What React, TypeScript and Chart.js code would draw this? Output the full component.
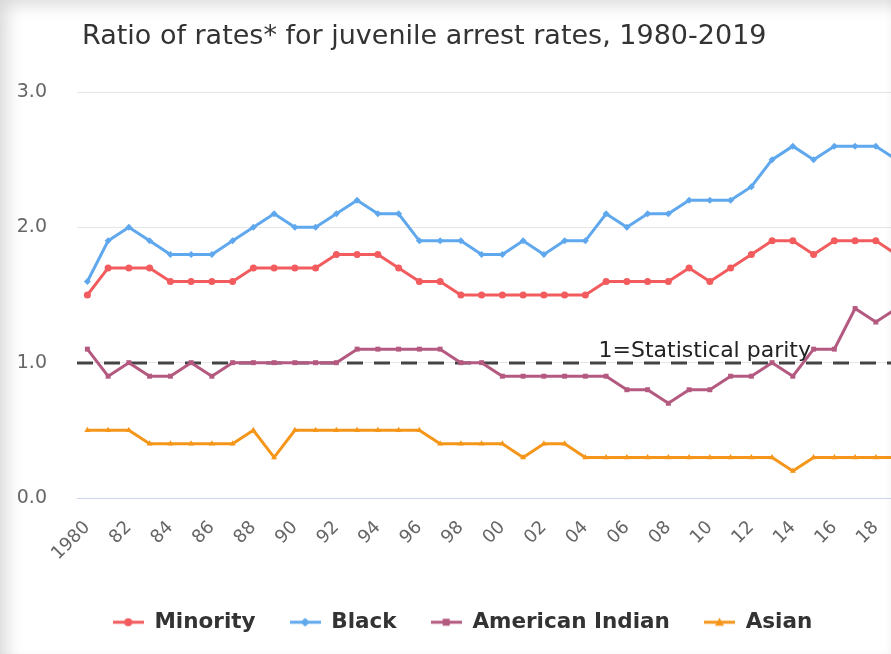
import React, { useEffect, useRef } from "react";
import { Chart, registerables } from "chart.js";

Chart.register(...registerables);

const chartTitle = "Ratio of rates* for juvenile arrest rates, 1980-2019";

const years = [
  "1980", "1981", "1982", "1983", "1984", "1985", "1986", "1987", "1988", "1989",
  "1990", "1991", "1992", "1993", "1994", "1995", "1996", "1997", "1998", "1999",
  "2000", "2001", "2002", "2003", "2004", "2005", "2006", "2007", "2008", "2009",
  "2010", "2011", "2012", "2013", "2014", "2015", "2016", "2017", "2018", "2019",
];

const xTickLabels = [
  "1980", "", "82", "", "84", "", "86", "", "88", "",
  "90", "", "92", "", "94", "", "96", "", "98", "",
  "00", "", "02", "", "04", "", "06", "", "08", "",
  "10", "", "12", "", "14", "", "16", "", "18", "",
];

const minority = [
  1.5, 1.7, 1.7, 1.7, 1.6, 1.6, 1.6, 1.6, 1.7, 1.7,
  1.7, 1.7, 1.8, 1.8, 1.8, 1.7, 1.6, 1.6, 1.5, 1.5,
  1.5, 1.5, 1.5, 1.5, 1.5, 1.6, 1.6, 1.6, 1.6, 1.7,
  1.6, 1.7, 1.8, 1.9, 1.9, 1.8, 1.9, 1.9, 1.9, 1.8,
];

const black = [
  1.6, 1.9, 2.0, 1.9, 1.8, 1.8, 1.8, 1.9, 2.0, 2.1,
  2.0, 2.0, 2.1, 2.2, 2.1, 2.1, 1.9, 1.9, 1.9, 1.8,
  1.8, 1.9, 1.8, 1.9, 1.9, 2.1, 2.0, 2.1, 2.1, 2.2,
  2.2, 2.2, 2.3, 2.5, 2.6, 2.5, 2.6, 2.6, 2.6, 2.5,
];

const americanIndian = [
  1.1, 0.9, 1.0, 0.9, 0.9, 1.0, 0.9, 1.0, 1.0, 1.0,
  1.0, 1.0, 1.0, 1.1, 1.1, 1.1, 1.1, 1.1, 1.0, 1.0,
  0.9, 0.9, 0.9, 0.9, 0.9, 0.9, 0.8, 0.8, 0.7, 0.8,
  0.8, 0.9, 0.9, 1.0, 0.9, 1.1, 1.1, 1.4, 1.3, 1.4,
];

const asian = [
  0.5, 0.5, 0.5, 0.4, 0.4, 0.4, 0.4, 0.4, 0.5, 0.3,
  0.5, 0.5, 0.5, 0.5, 0.5, 0.5, 0.5, 0.4, 0.4, 0.4,
  0.4, 0.3, 0.4, 0.4, 0.3, 0.3, 0.3, 0.3, 0.3, 0.3,
  0.3, 0.3, 0.3, 0.3, 0.2, 0.3, 0.3, 0.3, 0.3, 0.3,
];

const seriesNames = ["Minority", "Black", "American Indian", "Asian"];
const seriesColors = ["#f25c5e", "#5fa8ee", "#b4597f", "#f5961a"];
const seriesMarkers = ["circle", "rectRot", "rect", "triangle"];

const yMin = 0;
const yMax = 3;
const yStep = 1;

const parityValue = 1;
const parityLabel = "1=Statistical parity";

const FONT = "'DejaVu Sans', sans-serif";

function makeLegendIcon(color: string, marker: string): HTMLCanvasElement {
  const c = document.createElement("canvas");
  c.width = 31;
  c.height = 12;
  const g = c.getContext("2d")!;
  g.strokeStyle = color;
  g.fillStyle = color;
  g.lineWidth = 3;
  g.beginPath();
  g.moveTo(0, 6);
  g.lineTo(31, 6);
  g.stroke();
  const cx = 15.5, cy = 6;
  g.beginPath();
  if (marker === "circle") {
    g.arc(cx, cy, 4, 0, Math.PI * 2);
  } else if (marker === "rectRot") {
    g.moveTo(cx, cy - 4.5);
    g.lineTo(cx + 4.5, cy);
    g.lineTo(cx, cy + 4.5);
    g.lineTo(cx - 4.5, cy);
    g.closePath();
  } else if (marker === "rect") {
    g.rect(cx - 3.5, cy - 3.5, 7, 7);
  } else {
    g.moveTo(cx, cy - 4.5);
    g.lineTo(cx + 4.5, cy + 3.5);
    g.lineTo(cx - 4.5, cy + 3.5);
    g.closePath();
  }
  g.fill();
  return c;
}

const titlePlugin = {
  id: "customTitle",
  afterDraw(chart: any) {
    const ctx = chart.ctx;
    ctx.save();
    ctx.font = `27px ${FONT}`;
    ctx.fillStyle = "#333333";
    ctx.textAlign = "left";
    ctx.textBaseline = "alphabetic";
    ctx.fillText(chartTitle, 82, 44);
    ctx.restore();
  },
};

const parityPlugin = {
  id: "parityLine",
  beforeDatasetsDraw(chart: any) {
    const { ctx, chartArea, scales } = chart;
    const y = Math.round(scales.y.getPixelForValue(parityValue));
    ctx.save();
    ctx.strokeStyle = "#444444";
    ctx.lineWidth = 3;
    ctx.setLineDash([16, 11]);
    ctx.beginPath();
    ctx.moveTo(chartArea.left, y);
    ctx.lineTo(chartArea.right, y);
    ctx.stroke();
    ctx.restore();
  },
  afterDatasetsDraw(chart: any) {
    const { ctx, chartArea, scales } = chart;
    const y = scales.y.getPixelForValue(parityValue);
    ctx.save();
    ctx.font = `22px ${FONT}`;
    ctx.fillStyle = "#222222";
    ctx.textAlign = "right";
    ctx.textBaseline = "alphabetic";
    ctx.fillText(parityLabel, chartArea.right - 96, y - 6);
    ctx.restore();
  },
};

export default function App() {
  const canvasRef = useRef<HTMLCanvasElement | null>(null);

  useEffect(() => {
    if (!canvasRef.current) return;
    const seriesData = [minority, black, americanIndian, asian];
    const icons = seriesNames.map((_, i) => makeLegendIcon(seriesColors[i], seriesMarkers[i]));

    const chart = new Chart(canvasRef.current, {
      type: "line",
      data: {
        labels: years,
        datasets: seriesNames.map((name, i) => ({
          label: name,
          data: seriesData[i],
          borderColor: seriesColors[i],
          backgroundColor: seriesColors[i],
          borderWidth: 3,
          pointStyle: seriesMarkers[i] as any,
          pointRadius: 3.5,
          pointBorderWidth: 0,
          pointBackgroundColor: seriesColors[i],
          tension: 0,
          fill: false,
        })),
      },
      options: {
        responsive: false,
        animation: false,
        devicePixelRatio: 1,
        layout: { padding: { top: 92, left: 5, right: 11, bottom: 11 } },
        font: { family: FONT },
        scales: {
          x: {
            type: "category",
            offset: true,
            grid: { display: false, drawTicks: false },
            border: { display: true, color: "#ccd6eb", width: 1 },
            ticks: {
              autoSkip: false,
              maxRotation: 45,
              minRotation: 45,
              padding: 19,
              color: "#666666",
              font: { family: FONT, size: 18 },
              callback: (_v: any, index: number) => xTickLabels[index],
            },
            afterFit: (scale: any) => {
              scale.height = 79.5;
            },
          },
          y: {
            min: yMin,
            max: yMax,
            border: { display: false },
            grid: {
              drawTicks: false,
              color: (c: any) => (c.tick && c.tick.value === 0 ? "#ccd6eb" : "#e6e6e6"),
              lineWidth: 1,
            },
            ticks: {
              stepSize: yStep,
              padding: 30,
              color: "#666666",
              font: { family: FONT, size: 19 },
              callback: (v: any) => Number(v).toFixed(1),
            },
            afterFit: (scale: any) => {
              scale.width = 72;
            },
          },
        },
        plugins: {
          title: { display: false },
          tooltip: { enabled: false },
          legend: {
            display: true,
            position: "bottom",
            align: "center",
            labels: {
              usePointStyle: true,
              pointStyleWidth: 31,
              padding: 34,
              color: "#333333",
              font: { family: FONT, size: 21.5, weight: "bold" },
              generateLabels: (ch: any) =>
                Chart.defaults.plugins.legend.labels
                  .generateLabels(ch)
                  .map((item: any, i: number) => ({ ...item, pointStyle: icons[i] })),
            },
          },
        },
      },
      plugins: [titlePlugin, parityPlugin],
    } as any);

    return () => chart.destroy();
  }, []);

  return (
    <div
      style={{
        position: "fixed",
        left: 0,
        top: 0,
        width: 891,
        height: 654,
        overflow: "hidden",
        background: "#ffffff",
      }}
    >
      <canvas ref={canvasRef} width={931} height={654} style={{ display: "block" }} />
      <div
        style={{
          position: "absolute",
          left: 0,
          top: 0,
          width: 891,
          height: 654,
          pointerEvents: "none",
          boxShadow: "inset 16px 14px 18px -10px rgba(0,0,0,0.16), inset -6px -4px 8px -6px rgba(0,0,0,0.06)",
        }}
      />
    </div>
  );
}
